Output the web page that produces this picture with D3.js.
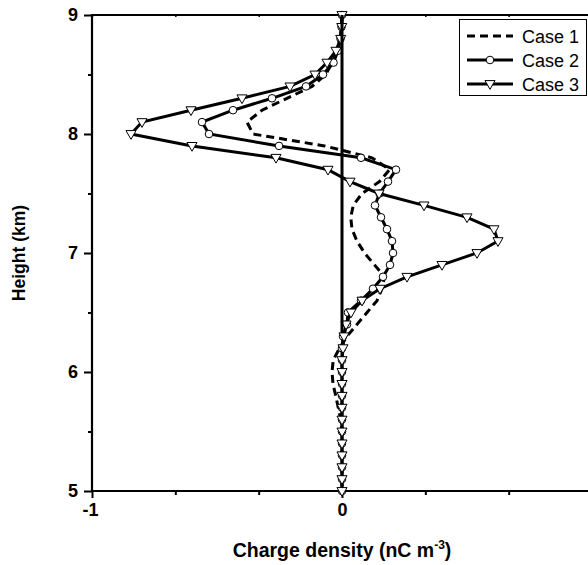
<!DOCTYPE html>
<html><head><meta charset="utf-8">
<script src="https://cdn.jsdelivr.net/npm/d3@7"></script>
<style>body{margin:0;background:#fff}svg{display:block;font-family:Arial,"Liberation Sans",sans-serif}</style>
</head><body><svg id="c" width="588" height="565"></svg>
<script>
const heights = [9.0,8.9,8.8,8.7,8.6,8.5,8.4,8.3,8.2,8.1,8.0,7.9,7.8,7.7,7.6,7.5,7.4,7.3,7.2,7.1,7.0,6.9,6.8,6.7,6.6,6.5,6.4,6.3,6.2,6.1,6.0,5.9,5.8,5.7,5.6,5.5,5.4,5.3,5.2,5.1,5.0];
const case1 = [0,-0.002,-0.008,-0.02,-0.04,-0.065,-0.12,-0.22,-0.32,-0.38,-0.356,-0.07,0.12,0.19,0.15,0.08,0.045,0.035,0.04,0.06,0.09,0.13,0.17,0.16,0.14,0.1,0.06,0.02,-0.01,-0.035,-0.04,-0.036,-0.025,-0.015,-0.005,0,0,0,0,0,0];
const case2 = [0,-0.002,-0.006,-0.016,-0.034,-0.076,-0.144,-0.28,-0.436,-0.56,-0.532,-0.252,0.076,0.216,0.184,0.15,0.132,0.156,0.18,0.2,0.204,0.192,0.164,0.124,0.076,0.024,0.02,0.004,0,0,0,0,0,0,0,0,0,0,0,0,0];
const case3 = [0,-0.001,-0.005,-0.024,-0.06,-0.108,-0.208,-0.4,-0.604,-0.8,-0.844,-0.6,-0.264,-0.056,0.032,0.148,0.328,0.5,0.608,0.624,0.54,0.4,0.26,0.152,0.08,0.036,0.016,0.008,0.004,0,0,0,0,0,0,0,0,0,0,0,0];
const zeroLine = [[0,9],[0,6.33]];
const xTicksLabeled = [-1,0];
const xTicksMajor = [-1,0,1];
const xTicksMinor = [-2/3,-1/3,1/3,2/3];
const yTicksMajor = [5,6,7,8,9];
const yTicksMinor = [5.5,6.5,7.5,8.5];
const legendLabels = ["Case 1","Case 2","Case 3"];

const svg = d3.select("#c");
const x = d3.scaleLinear().domain([-1,1]).range([92,592]);
const y = d3.scaleLinear().domain([5,9]).range([491,15]);

// axes
const g = svg.append("g");
g.append("line").attr("x1",x(-1)).attr("x2",600).attr("y1",y(5)).attr("y2",y(5)).attr("stroke","#000").attr("stroke-width",2.2);
g.append("line").attr("x1",x(-1)).attr("x2",600).attr("y1",y(9)).attr("y2",y(9)).attr("stroke","#000").attr("stroke-width",2.2);
g.append("line").attr("x1",x(-1)).attr("x2",x(-1)).attr("y1",y(9)-1).attr("y2",y(5)+1).attr("stroke","#000").attr("stroke-width",2.2);

const xb = svg.append("g").attr("transform",`translate(0,${y(5)})`)
  .call(d3.axisBottom(x).tickValues(xTicksMajor).tickSize(7).tickSizeOuter(0)
    .tickFormat(d => xTicksLabeled.includes(d) ? String(d) : ""));
xb.select(".domain").remove();
xb.selectAll(".tick line").attr("stroke-width",2);
xb.selectAll("text").attr("font-size",18).attr("font-weight","bold").attr("y",11).attr("dy","0.75em").attr("fill","#000");
xb.selectAll(".tick").filter(d=>d===-1).select("text").attr("dx","-2");
const xbm = svg.append("g").attr("transform",`translate(0,${y(5)})`)
  .call(d3.axisBottom(x).tickValues(xTicksMinor).tickSize(4).tickSizeOuter(0).tickFormat(""));
xbm.select(".domain").remove(); xbm.selectAll(".tick line").attr("stroke-width",2);
const xt = svg.append("g").attr("transform",`translate(0,${y(9)})`)
  .call(d3.axisBottom(x).tickValues(xTicksMinor.concat(xTicksMajor)).tickSize(2).tickSizeOuter(0).tickFormat(""));
xt.select(".domain").remove(); xt.selectAll(".tick line").attr("stroke-width",1.5);

const yl = svg.append("g").attr("transform",`translate(${x(-1)},0)`)
  .call(d3.axisLeft(y).tickValues(yTicksMajor).tickSize(8).tickSizeOuter(0).tickFormat(d => String(d)));
yl.select(".domain").remove();
yl.selectAll(".tick line").attr("stroke-width",2);
yl.selectAll("text").attr("font-size",18).attr("font-weight","bold").attr("x",-14).attr("fill","#000");
const ylm = svg.append("g").attr("transform",`translate(${x(-1)},0)`)
  .call(d3.axisLeft(y).tickValues(yTicksMinor).tickSize(4).tickSizeOuter(0).tickFormat(""));
ylm.select(".domain").remove(); ylm.selectAll(".tick line").attr("stroke-width",2);

// titles
const xtitle = svg.append("text").attr("x",342).attr("y",557).attr("text-anchor","middle")
  .attr("font-size",19.5).attr("font-weight","bold");
xtitle.append("tspan").text("Charge density (nC m");
xtitle.append("tspan").attr("font-size",12).attr("dy",-8).text("-3");
xtitle.append("tspan").attr("dy",8).text(")");
svg.append("text").attr("transform","translate(25,253) rotate(-90)").attr("text-anchor","middle")
  .attr("font-size",17.5).attr("font-weight","bold").text("Height (km)");

// data
const line = d3.line().x(d=>x(d[0])).y(d=>y(d[1]));
const pts = arr => arr.map((v,i)=>[v,heights[i]]);
const plot = svg.append("g");
plot.append("path").datum(pts(case1)).attr("d",line).attr("fill","none").attr("stroke","#000").attr("stroke-width",3).attr("stroke-dasharray","8,5");
plot.append("path").datum(pts(case2)).attr("d",line).attr("fill","none").attr("stroke","#000").attr("stroke-width",3);
plot.selectAll(".c2").data(pts(case2)).enter().append("circle").attr("cx",d=>x(d[0])).attr("cy",d=>y(d[1])).attr("r",3.8).attr("fill","#fff").attr("stroke","#000").attr("stroke-width",1);
plot.append("path").datum(pts(case3)).attr("d",line).attr("fill","none").attr("stroke","#000").attr("stroke-width",3);
const tri = d3.symbol().type(d3.symbolTriangle).size(44);
plot.selectAll(".c3").data(pts(case3)).enter().append("path").attr("d",tri)
  .attr("transform",d=>`translate(${x(d[0])},${y(d[1])-0.5}) rotate(180)`).attr("fill","#fff").attr("stroke","#000").attr("stroke-width",1);
plot.append("path").datum(zeroLine).attr("d",line).attr("stroke","#000").attr("stroke-width",3);

// legend
const lg = svg.append("g");
lg.append("rect").attr("x",459.5).attr("y",19.5).attr("width",127).attr("height",76).attr("fill","#fff").attr("stroke","#000").attr("stroke-width",1);
legendLabels.forEach((lab,i)=>{
  const yy = 36 + i*24;
  lg.append("line").attr("x1",467).attr("x2",513).attr("y1",yy).attr("y2",yy).attr("stroke","#000").attr("stroke-width",3)
    .attr("stroke-dasharray", i===0 ? "8,5" : null);
  if(i===1) lg.append("circle").attr("cx",490).attr("cy",yy).attr("r",3.8).attr("fill","#fff").attr("stroke","#000");
  if(i===2) lg.append("path").attr("d",tri).attr("transform",`translate(490,${yy-0.5}) rotate(180)`).attr("fill","#fff").attr("stroke","#000");
  lg.append("text").attr("x",522).attr("y",yy+6.5).attr("font-size",18).text(lab);
});
</script></body></html>
